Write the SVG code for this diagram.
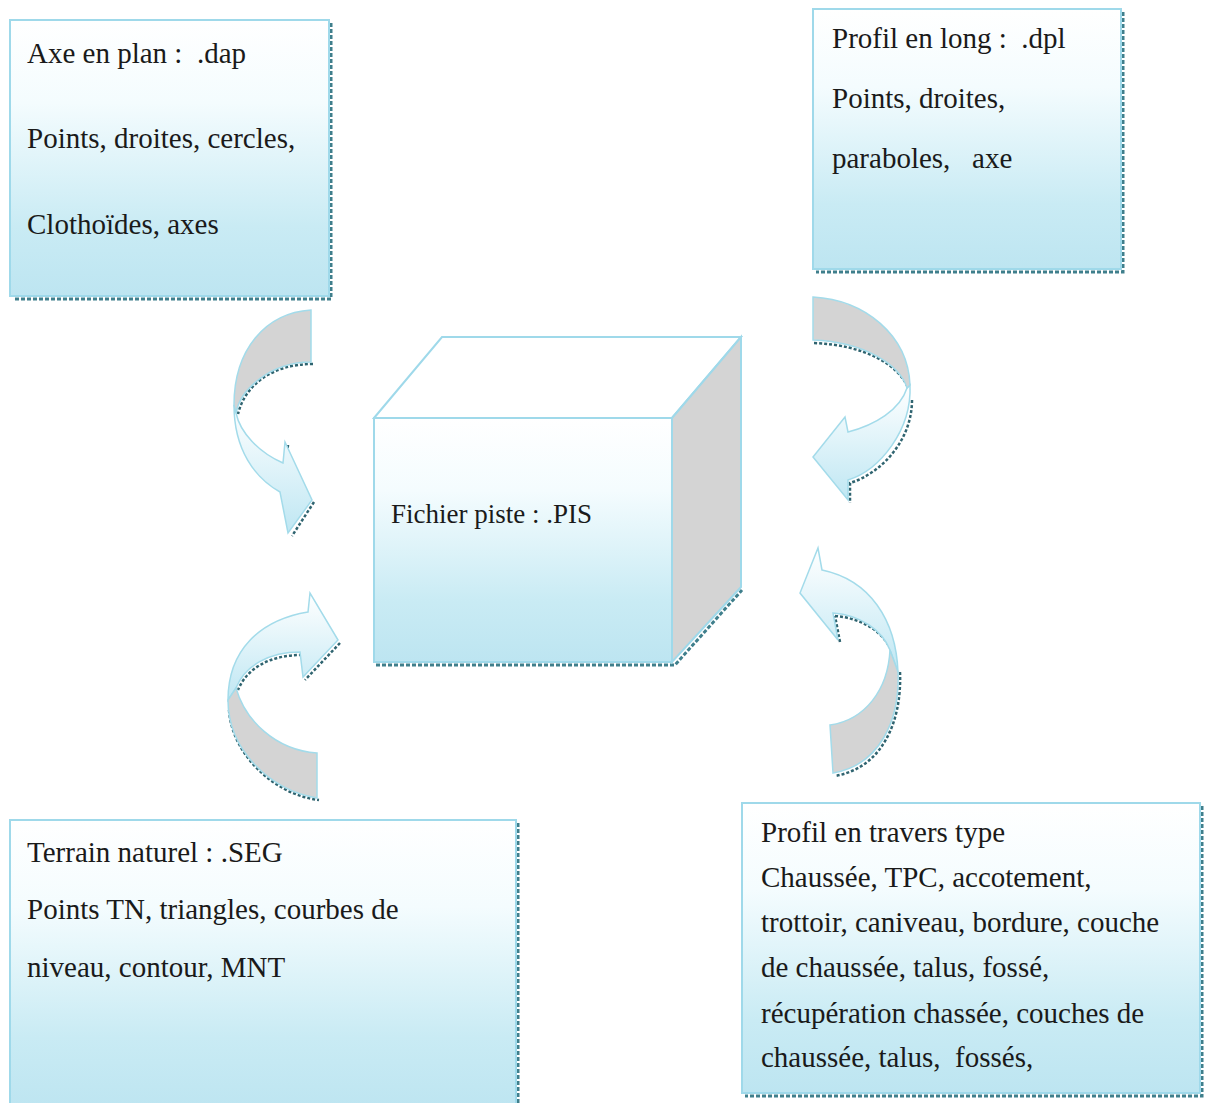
<svg xmlns="http://www.w3.org/2000/svg" width="1205" height="1103" viewBox="0 0 1205 1103">
<defs>
<linearGradient id="boxg" x1="0" y1="0" x2="0" y2="1">
<stop offset="0" stop-color="#ffffff"/>
<stop offset="0.3" stop-color="#f4fcfe"/>
<stop offset="0.75" stop-color="#c9ebf4"/>
<stop offset="1" stop-color="#bde5f1"/>
</linearGradient>
<linearGradient id="arrg" x1="0" y1="0" x2="0" y2="1">
<stop offset="0" stop-color="#ffffff"/>
<stop offset="1" stop-color="#bfe7f3"/>
</linearGradient>
<linearGradient id="arrg2" x1="0" y1="1" x2="0" y2="0">
<stop offset="0" stop-color="#bfe7f3"/>
<stop offset="1" stop-color="#ffffff"/>
</linearGradient>
<style>
.box{fill:url(#boxg);stroke:#9fd9ea;stroke-width:2}
.shadow{fill:none;stroke:#3f7f8c;stroke-width:3;stroke-dasharray:4 2}
.t{font-family:"Liberation Serif","Times New Roman",serif;font-size:29px;fill:#1a1a1a;white-space:pre}
.c{font-size:27px}
.grey{fill:#d4d4d4;stroke:#a3dbea;stroke-width:1.5}
.light{stroke:#a3dbea;stroke-width:1.5}
.sh{fill:none;stroke:#2f6470;stroke-width:2.5;stroke-dasharray:3 2}
</style>
</defs>
<rect width="1205" height="1103" fill="#ffffff"/>

<g id="axe-en-plan">
<path class="shadow" d="M331,23 V299 H13"/>
<rect class="box" x="10" y="20" width="319" height="276"/>
<text class="t" x="27" y="63">Axe en plan :  .dap</text>
<text class="t" x="27" y="148">Points, droites, cercles,</text>
<text class="t" x="27" y="234">Clothoïdes, axes</text>
</g>

<g id="profil-en-long">
<path class="shadow" d="M1123,12 V272 H816"/>
<rect class="box" x="813" y="9" width="308" height="260"/>
<text class="t" x="832" y="48">Profil en long :  .dpl</text>
<text class="t" x="832" y="108">Points, droites,</text>
<text class="t" x="832" y="168">paraboles,   axe</text>
</g>

<g id="terrain-naturel">
<path class="shadow" d="M518,823 V1103"/>
<rect class="box" x="10" y="820" width="506" height="290"/>
<text class="t" x="27" y="862">Terrain naturel : .SEG</text>
<text class="t" x="27" y="919">Points TN, triangles, courbes de</text>
<text class="t" x="27" y="977">niveau, contour, MNT</text>
</g>

<g id="profil-en-travers">
<path class="shadow" d="M1202,806 V1096 H745"/>
<rect class="box" x="742" y="803" width="458" height="290"/>
<text class="t" x="761" y="842">Profil en travers type</text>
<text class="t" x="761" y="887">Chaussée, TPC, accotement,</text>
<text class="t" x="761" y="932">trottoir, caniveau, bordure, couche</text>
<text class="t" x="761" y="977">de chaussée, talus, fossé,</text>
<text class="t" x="761" y="1023">récupération chassée, couches de</text>
<text class="t" x="761" y="1067">chaussée, talus,  fossés,</text>
</g>

<g id="fichier-piste">
<path class="shadow" d="M376,665 H675 L742,590"/>
<path d="M374,418 L442,337 L741,337 L672,418 Z" fill="#ffffff" stroke="#9fd9ea" stroke-width="2"/>
<path d="M672,418 L741,337 L741,587 L672,662 Z" fill="#d4d4d4" stroke="#9fd9ea" stroke-width="2"/>
<rect class="box" x="374" y="418" width="298" height="244"/>
<text class="t c" x="391" y="523">Fichier piste : .PIS</text>
</g>

<g id="connectors">
<g id="arrow-axe">
<path class="sh" d="M313,364 C272,364 245,385 238,414"/>
<path class="sh" d="M288,445 L286,466 M314,502 L292,536"/>
<path class="light" fill="url(#arrg)" d="M234,405 C234,450 255,478 280,492 L288,533 L312,500 L285,442 L283,463 C258,452 240,432 236,413 Z"/>
<path class="grey" d="M311,310 C265,313 234,350 234,405 L236,413 C240,390 270,362 311,362 Z"/>
</g>
<g id="arrow-long">
<path class="sh" d="M814,343 C865,345 900,365 909,390"/>
<path class="sh" d="M912,400 C912,440 882,473 850,483 L850,503"/>
<path class="light" fill="url(#arrg)" d="M910,385 C912,430 880,470 848,480 L848,500 L813,457 L845,417 L848,432 C875,425 900,410 907,388 Z"/>
<path class="grey" d="M813,297 C865,300 908,335 910,385 L907,388 C900,365 865,342 813,340 Z"/>
</g>
<g id="arrow-terrain">
<path class="sh" d="M302,655 C270,655 247,668 238,690"/>
<path class="sh" d="M340,643 L305,680 M229,710 C232,755 275,795 319,800"/>
<path class="light" fill="url(#arrg2)" d="M228,700 C228,650 260,620 308,612 L310,593 L338,640 L303,677 L300,652 C270,652 245,665 236,688 Z"/>
<path class="grey" d="M317,798 C270,790 228,750 228,700 L236,688 C245,720 275,750 317,753 Z"/>
</g>
<g id="arrow-travers">
<path class="sh" d="M835,616 C862,618 884,632 892,652"/>
<path class="sh" d="M900,672 C902,722 882,768 835,776 M840,642 L835,616"/>
<path class="light" fill="url(#arrg)" d="M898,672 C896,620 870,580 822,570 L818,548 L800,593 L838,640 L833,613 C860,615 882,630 890,650 Z"/>
<path class="grey" d="M833,773 C880,765 900,720 898,672 L890,650 C888,690 865,720 830,725 Z"/>
</g>
</g>
</svg>
